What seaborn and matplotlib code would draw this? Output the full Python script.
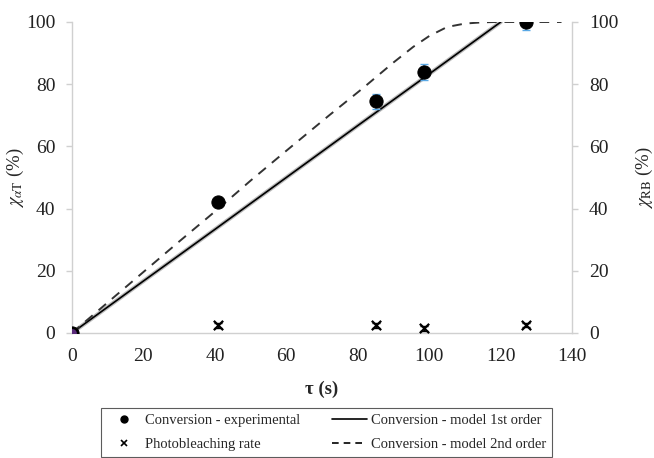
import matplotlib
matplotlib.use("Agg")
import matplotlib.pyplot as plt
import seaborn as sns
import pandas as pd
from matplotlib.lines import Line2D

# Data
tau_exp = [0, 41, 85, 98.5, 127]
conv_exp = [0, 42, 74.5, 84, 100]
conv_err = [0.5, 1.0, 2.5, 2.5, 2.5]

tau_pb = [41, 85, 98.5, 127]
pb_rate = [2.5, 2.5, 1.5, 2.5]
pb_err = [0.8, 0.8, 0.8, 0.6]

tau_m1 = [0, 20, 40, 60, 80, 100, 120]
conv_m1 = [0, 16.7, 33.3, 50.0, 66.7, 83.3, 100]

tau_m2 = [0, 10, 20, 30, 41, 50, 60, 72, 81.5, 90, 95.5, 100, 105, 110, 115, 119, 125, 130, 137]
conv_m2 = [0, 9.8, 19.6, 29.4, 40, 49, 58.6, 70, 78.8, 87, 92, 95.5, 98.4, 99.5, 99.9, 100, 100, 100, 100]

sns.set_theme(style="white")
plt.rcParams['font.family'] = ['Liberation Serif', 'DejaVu Serif']
plt.rcParams['mathtext.fontset'] = 'stix'

fig = plt.figure(figsize=(6.54, 4.58), dpi=100)
ax = fig.add_axes([0.110, 0.273, 0.765, 0.679])

df1 = pd.DataFrame({"tau": tau_m1, "conv": conv_m1})
df2 = pd.DataFrame({"tau": tau_m2, "conv": conv_m2})
dfe = pd.DataFrame({"tau": tau_exp, "conv": conv_exp})
dfp = pd.DataFrame({"tau": tau_pb, "rate": pb_rate})

sns.lineplot(data=df1, x="tau", y="conv", ax=ax, color="#bbbbbb", linewidth=3.0, zorder=2)
sns.lineplot(data=df1, x="tau", y="conv", ax=ax, color="black", linewidth=1.2, zorder=3)
sns.lineplot(data=df2, x="tau", y="conv", ax=ax, color="#333333", linewidth=1.4,
             linestyle=(0, (5, 4)), zorder=3)

ax.errorbar(tau_exp, conv_exp, yerr=conv_err, fmt="none", ecolor="#5aa9e6",
            elinewidth=1.2, capsize=3, zorder=4)
sns.scatterplot(data=dfe, x="tau", y="conv", ax=ax, color="black", s=90,
                edgecolor="black", zorder=5)
ax.errorbar(tau_pb, pb_rate, yerr=pb_err, fmt="none", ecolor="black",
            elinewidth=0.8, capsize=3, zorder=4)
sns.scatterplot(data=dfp, x="tau", y="rate", ax=ax, color="black", marker="x",
                s=45, linewidth=1.6, zorder=5)
# origin point tinted purple as in the reference
ax.scatter([tau_exp[0]], [conv_exp[0]], s=40, color="#5a2a7a", zorder=6, linewidth=0)

ax.set_xlim(0, 140)
ax.set_ylim(0, 100)
ax.set_xticks(range(0, 141, 20))
ax.set_yticks(range(0, 101, 20))
ax.set_xlabel("τ (s)", fontsize=13.5, labelpad=11, fontweight="semibold")
ax.set_ylabel(r"$\chi_{\alpha\mathrm{T}}$ (%)", fontsize=13.5)
ax.yaxis.set_label_coords(-0.092, 0.5)

ax2 = ax.twinx()
ax2.set_ylim(0, 100)
ax2.set_yticks(range(0, 101, 20))
ax2.set_ylabel(r"$\chi_{\mathrm{RB}}$ (%)", fontsize=13.5)
ax2.yaxis.set_label_coords(1.124, 0.5)

gray = "#d0d0d0"
for a in (ax, ax2):
    a.spines["top"].set_visible(False)
    for s in ["left", "right", "bottom"]:
        a.spines[s].set_color(gray)
        a.spines[s].set_linewidth(1.0)
    a.tick_params(axis="both", labelsize=14, colors="#222222", length=4,
                  width=1.0, direction="out")
    a.tick_params(axis="both", color=gray)
ax2.spines["left"].set_visible(False)
ax2.spines["bottom"].set_visible(False)
ax.spines["right"].set_visible(False)
ax.tick_params(axis="y", pad=8)
ax.tick_params(axis="x", pad=7)
ax2.tick_params(axis="y", pad=8)

handles = [
    Line2D([], [], marker="o", color="black", linestyle="none", markersize=5),
    Line2D([], [], marker="x", color="black", linestyle="none", markersize=4, markeredgewidth=1.2),
    Line2D([], [], color="black", linewidth=1.2),
    Line2D([], [], color="black", linewidth=1.2, linestyle=(0, (4, 3))),
]
labels = ["Conversion - experimental", "Photobleaching rate",
          "Conversion - model 1st order", "Conversion - model 2nd order"]
leg = fig.legend(handles, labels, ncol=2, loc="lower left",
                 bbox_to_anchor=(0.154, 0.002, 0.690, 0.105), mode="expand",
                 borderaxespad=0.0,
                 fontsize=10.5, frameon=True, fancybox=False, borderpad=0.4,
                 handlelength=2.4, handletextpad=0.25, labelspacing=0.75,
                 columnspacing=0.5)
leg.get_frame().set_edgecolor("#333333")
leg.get_frame().set_linewidth(0.8)

fig.savefig("out.png", dpi=100)
